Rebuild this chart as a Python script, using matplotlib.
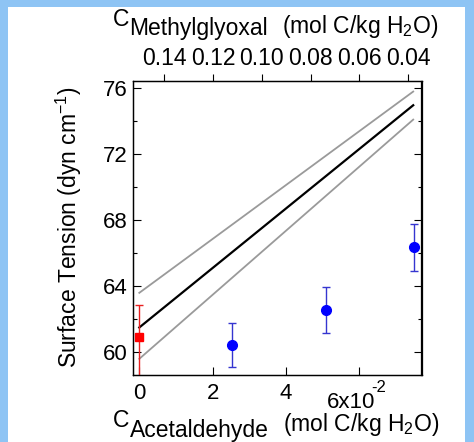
import matplotlib
matplotlib.use("Agg")
import matplotlib.pyplot as plt
from matplotlib.patches import Rectangle
from matplotlib.ticker import MultipleLocator

plt.rcParams['font.family'] = ['Liberation Sans', 'DejaVu Sans']
plt.rcParams['mathtext.fontset'] = 'custom'
plt.rcParams['mathtext.rm'] = 'Liberation Sans'
plt.rcParams['mathtext.it'] = 'Liberation Sans:italic'

# ---- data ----
acet_x = [0.0253, 0.0508, 0.0750]
acet_y = [60.44, 62.56, 66.36]
acet_err = [1.32, 1.38, 1.42]

mgly_x = [0.0]
mgly_y = [60.95]
mgly_err_low = [2.6]
mgly_err_high = [1.92]

fit_x = [0.0, 0.0747]
fit_y = [61.5, 74.97]
fit_upper = [63.6, 75.8]
fit_lower = [59.6, 74.1]

bottom_ticks = [0.0, 0.02, 0.04, 0.06]
bottom_labels = ['0', '2', '4', '']
top_ticks = [0.14, 0.12, 0.10, 0.08, 0.06, 0.04]
top_labels = ['0.14', '0.12', '0.10', '0.08', '0.06', '0.04']
y_ticks = [60, 64, 68, 72, 76]

W, H = 474, 442
fig = plt.figure(figsize=(W / 100, H / 100), dpi=100)
fig.patch.set_facecolor('#8ec4f4')
fig.patches.append(Rectangle((8 / W, 0), (465 - 8) / W, (H - 7) / H,
                             transform=fig.transFigure, facecolor='white',
                             edgecolor='none', zorder=-10))

def px(x, y):
    return x / W, 1 - y / H

ax = fig.add_axes([133 / W, 1 - 375 / H, (421.5 - 133) / W, (375 - 81) / H])
ax.set_facecolor('white')
xmin, xmax = -0.00172, 0.07696
ax.set_xlim(xmin, xmax)
ax.set_ylim(58.62, 76.44)

ax.plot(fit_x, fit_upper, color='#9a9a9a', lw=1.3, zorder=2)
ax.plot(fit_x, fit_lower, color='#9a9a9a', lw=1.3, zorder=2)
ax.plot(fit_x, fit_y, color='black', lw=1.6, zorder=3)

ax.errorbar(acet_x, acet_y, yerr=acet_err, fmt='o', color='#0000ff',
            ecolor='#3535d0', elinewidth=1.0, capsize=3, capthick=1.0,
            markersize=7, zorder=4)
ax.errorbar(mgly_x, mgly_y, yerr=[mgly_err_low, mgly_err_high], fmt='s',
            color='#ff0000', ecolor='#e82020', elinewidth=1.0, capsize=3,
            capthick=1.0, markersize=5.5, zorder=4)

for s in ax.spines.values():
    s.set_linewidth(0.9)

ax.set_xticks(bottom_ticks)
ax.set_xticklabels(bottom_labels)
ax.set_yticks(y_ticks)
ax.yaxis.set_minor_locator(MultipleLocator(2))
ax.tick_params(axis='x', which='both', direction='in', length=6, width=0.8,
               labelsize=16, pad=6, top=False)
ax.tick_params(axis='y', which='major', direction='in', length=6, width=0.8,
               labelsize=16, pad=4, right=True)
ax.tick_params(axis='y', which='minor', direction='in', length=3, width=0.8,
               right=True)

ax2 = ax.twiny()
conv_a, conv_b = 0.15025, 1.503
ax2.set_xlim(conv_a - conv_b * xmin, conv_a - conv_b * xmax)
ax2.set_xticks(top_ticks)
ax2.set_xticklabels(top_labels)
ax2.tick_params(axis='x', direction='out', length=5, width=0.8,
                labelsize=16.5, pad=3)
for s in ax2.spines.values():
    s.set_linewidth(0.9)

# 6x10^-2 label
fig.text(*px(327, 408), '6x10', fontsize=16, ha='left', va='baseline')
fig.text(*px(371, 392), '-2', fontsize=12, ha='left', va='baseline')

# top axis title
fig.text(*px(113, 26), 'C', fontsize=16.5, ha='left', va='baseline')
fig.text(*px(129, 35), 'Methylglyoxal', fontsize=16.5, ha='left', va='baseline')
fig.text(*px(282, 33), '(mol C/kg H$_{2}$O)', fontsize=16.5, ha='left', va='baseline')

# bottom axis title
fig.text(*px(113, 427), 'C', fontsize=16.5, ha='left', va='baseline')
fig.text(*px(130, 437), 'Acetaldehyde', fontsize=16.5, ha='left', va='baseline')
fig.text(*px(283, 431), '(mol C/kg H$_{2}$O)', fontsize=16.5, ha='left', va='baseline')

# y label
fig.text(*px(69, 227), 'Surface Tension (dyn cm$^{-1}$)', fontsize=16.5,
         rotation=90, ha='center', va='center')

fig.savefig('out.png', dpi=100, facecolor=fig.get_facecolor())
